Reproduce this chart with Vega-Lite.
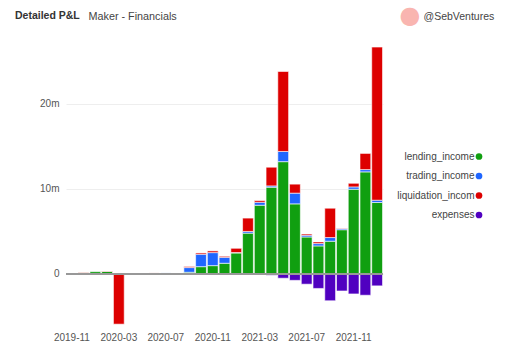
{
  "$schema": "https://vega.github.io/schema/vega-lite/v6.json",
  "width": 317,
  "height": 288,
  "autosize": {"type": "none"},
  "padding": {"left": 66, "top": 40, "right": 131, "bottom": 24},
  "background": "white",
  "title": {"text": "Detailed P&L", "anchor": "start", "frame": "group", "dx": -51, "offset": 0, "dy": 26, "baseline": "alphabetic", "fontSize": 10.5, "fontWeight": "bold", "font": "Liberation Sans", "color": "#333"},
  "config": {"view": {"stroke": null}, "font": "Liberation Sans"},
  "data": {"values": [
    {"month": "2019-11", "series": "lending_income", "value": 50000},
    {"month": "2019-11", "series": "liquidation_income", "value": 20000},
    {"month": "2019-12", "series": "lending_income", "value": 150000},
    {"month": "2019-12", "series": "liquidation_income", "value": 50000},
    {"month": "2020-01", "series": "lending_income", "value": 270000},
    {"month": "2020-02", "series": "lending_income", "value": 300000},
    {"month": "2020-02", "series": "liquidation_income", "value": 50000},
    {"month": "2020-03", "series": "lending_income", "value": 80000},
    {"month": "2020-03", "series": "liquidation_income", "value": -5900000},
    {"month": "2020-04", "series": "lending_income", "value": 20000},
    {"month": "2020-05", "series": "liquidation_income", "value": 50000},
    {"month": "2020-06", "series": "liquidation_income", "value": 120000},
    {"month": "2020-07", "series": "trading_income", "value": 120000},
    {"month": "2020-08", "series": "lending_income", "value": 20000},
    {"month": "2020-09", "series": "lending_income", "value": 200000},
    {"month": "2020-09", "series": "trading_income", "value": 550000},
    {"month": "2020-09", "series": "liquidation_income", "value": 120000},
    {"month": "2020-10", "series": "lending_income", "value": 860000},
    {"month": "2020-10", "series": "trading_income", "value": 1460000},
    {"month": "2020-10", "series": "liquidation_income", "value": 150000},
    {"month": "2020-11", "series": "lending_income", "value": 980000},
    {"month": "2020-11", "series": "trading_income", "value": 1530000},
    {"month": "2020-11", "series": "liquidation_income", "value": 200000},
    {"month": "2020-12", "series": "lending_income", "value": 1260000},
    {"month": "2020-12", "series": "trading_income", "value": 700000},
    {"month": "2020-12", "series": "liquidation_income", "value": 120000},
    {"month": "2021-01", "series": "lending_income", "value": 2470000},
    {"month": "2021-01", "series": "trading_income", "value": 50000},
    {"month": "2021-01", "series": "liquidation_income", "value": 500000},
    {"month": "2021-02", "series": "lending_income", "value": 4800000},
    {"month": "2021-02", "series": "trading_income", "value": 200000},
    {"month": "2021-02", "series": "liquidation_income", "value": 1570000},
    {"month": "2021-03", "series": "lending_income", "value": 8080000},
    {"month": "2021-03", "series": "trading_income", "value": 350000},
    {"month": "2021-03", "series": "liquidation_income", "value": 200000},
    {"month": "2021-03", "series": "expenses", "value": -50000},
    {"month": "2021-04", "series": "lending_income", "value": 10200000},
    {"month": "2021-04", "series": "trading_income", "value": 150000},
    {"month": "2021-04", "series": "liquidation_income", "value": 2200000},
    {"month": "2021-04", "series": "expenses", "value": -150000},
    {"month": "2021-05", "series": "lending_income", "value": 13200000},
    {"month": "2021-05", "series": "trading_income", "value": 1200000},
    {"month": "2021-05", "series": "liquidation_income", "value": 9400000},
    {"month": "2021-05", "series": "expenses", "value": -500000},
    {"month": "2021-06", "series": "lending_income", "value": 8240000},
    {"month": "2021-06", "series": "trading_income", "value": 1260000},
    {"month": "2021-06", "series": "liquidation_income", "value": 1060000},
    {"month": "2021-06", "series": "expenses", "value": -750000},
    {"month": "2021-07", "series": "lending_income", "value": 4350000},
    {"month": "2021-07", "series": "trading_income", "value": 200000},
    {"month": "2021-07", "series": "liquidation_income", "value": 150000},
    {"month": "2021-07", "series": "expenses", "value": -1200000},
    {"month": "2021-08", "series": "lending_income", "value": 3300000},
    {"month": "2021-08", "series": "trading_income", "value": 270000},
    {"month": "2021-08", "series": "liquidation_income", "value": 200000},
    {"month": "2021-08", "series": "expenses", "value": -1700000},
    {"month": "2021-09", "series": "lending_income", "value": 3850000},
    {"month": "2021-09", "series": "trading_income", "value": 430000},
    {"month": "2021-09", "series": "liquidation_income", "value": 3450000},
    {"month": "2021-09", "series": "expenses", "value": -3150000},
    {"month": "2021-10", "series": "lending_income", "value": 5200000},
    {"month": "2021-10", "series": "trading_income", "value": 150000},
    {"month": "2021-10", "series": "liquidation_income", "value": 50000},
    {"month": "2021-10", "series": "expenses", "value": -2000000},
    {"month": "2021-11", "series": "lending_income", "value": 9960000},
    {"month": "2021-11", "series": "trading_income", "value": 270000},
    {"month": "2021-11", "series": "liquidation_income", "value": 430000},
    {"month": "2021-11", "series": "expenses", "value": -2350000},
    {"month": "2021-12", "series": "lending_income", "value": 12000000},
    {"month": "2021-12", "series": "trading_income", "value": 270000},
    {"month": "2021-12", "series": "liquidation_income", "value": 1900000},
    {"month": "2021-12", "series": "expenses", "value": -2500000},
    {"month": "2022-01", "series": "lending_income", "value": 8400000},
    {"month": "2022-01", "series": "trading_income", "value": 270000},
    {"month": "2022-01", "series": "liquidation_income", "value": 18000000},
    {"month": "2022-01", "series": "expenses", "value": -1400000}
  ]},
  "transform": [
    {"calculate": "indexof(['lending_income','trading_income','liquidation_income','expenses'], datum.series)", "as": "ord"}
  ],
  "resolve": {"axis": {"y": "independent"}},
  "layer": [
    {
      "mark": {"type": "bar", "stroke": "white", "strokeWidth": 0.6},
      "encoding": {
        "x": {
          "field": "month", "type": "ordinal",
          "scale": {"domain": ["2019-11","2019-12","2020-01","2020-02","2020-03","2020-04","2020-05","2020-06","2020-07","2020-08","2020-09","2020-10","2020-11","2020-12","2021-01","2021-02","2021-03","2021-04","2021-05","2021-06","2021-07","2021-08","2021-09","2021-10","2021-11","2021-12","2022-01"], "paddingInner": 0.08, "paddingOuter": 0.04},
          "axis": {
            "values": ["2019-11","2020-03","2020-07","2020-11","2021-03","2021-07","2021-11"],
            "labelAngle": 0, "ticks": false, "domain": false, "grid": false,
            "labelPadding": 4, "labelColor": "#555", "labelFontSize": 10,
            "title": "Maker - Financials", "titleX": 22, "titleY": -309, "titleAlign": "left", "titleBaseline": "alphabetic",
            "titleFontSize": 10.8, "titleFontWeight": "normal", "titleColor": "#444"
          }
        },
        "y": {
          "field": "value", "type": "quantitative", "stack": "zero",
          "scale": {"domain": [-6350000, 27500000], "nice": false, "zero": false},
          "axis": {
            "values": [0, 10000000, 20000000],
            "labelExpr": "datum.value == 0 ? '0' : (datum.value / 1000000) + 'm'",
            "domain": false, "ticks": false, "grid": true, "gridColor": "#eeeeee",
            "labelPadding": 7, "labelColor": "#555", "labelFontSize": 10,
            "title": "@SebVentures", "titleAngle": 0, "titleX": 357, "titleY": -21, "titleAlign": "left", "titleBaseline": "alphabetic",
            "titleFontSize": 10.5, "titleFontWeight": "normal", "titleColor": "#444"
          }
        },
        "color": {
          "field": "series", "type": "nominal",
          "scale": {"domain": ["lending_income", "trading_income", "liquidation_income", "expenses"], "range": ["#109f10", "#1f66ff", "#dd0000", "#5000c0"]},
          "legend": {
            "orient": "none", "legendX": 323, "legendY": 111.5, "title": null,
            "symbolType": "circle", "symbolSize": 45, "symbolStrokeWidth": 0,
            "labelAlign": "right", "labelOffset": -9.5, "symbolOffset": 85,
            "labelFontSize": 10, "labelColor": "#444", "rowPadding": 9.5, "labelLimit": 200, "padding": 0,
            "labelExpr": "datum.label == 'liquidation_income' ? 'liquidation_incom' : datum.label"
          }
        },
        "order": {"field": "ord", "type": "quantitative"}
      }
    },
    {
      "mark": {"type": "rule", "color": "#999999", "strokeWidth": 1.5},
      "encoding": {
        "y": {
          "datum": 0,
          "axis": {
            "orient": "right", "labels": false, "ticks": false, "domain": false, "grid": false,
            "title": "●", "titleAngle": 0, "titleX": 26.5, "titleY": -25, "titleAlign": "center", "titleBaseline": "middle",
            "titleFontSize": 24, "titleColor": "#f9b5b0", "titleFont": "DejaVu Sans", "titleFontWeight": "normal"
          }
        }
      }
    }
  ]
}
